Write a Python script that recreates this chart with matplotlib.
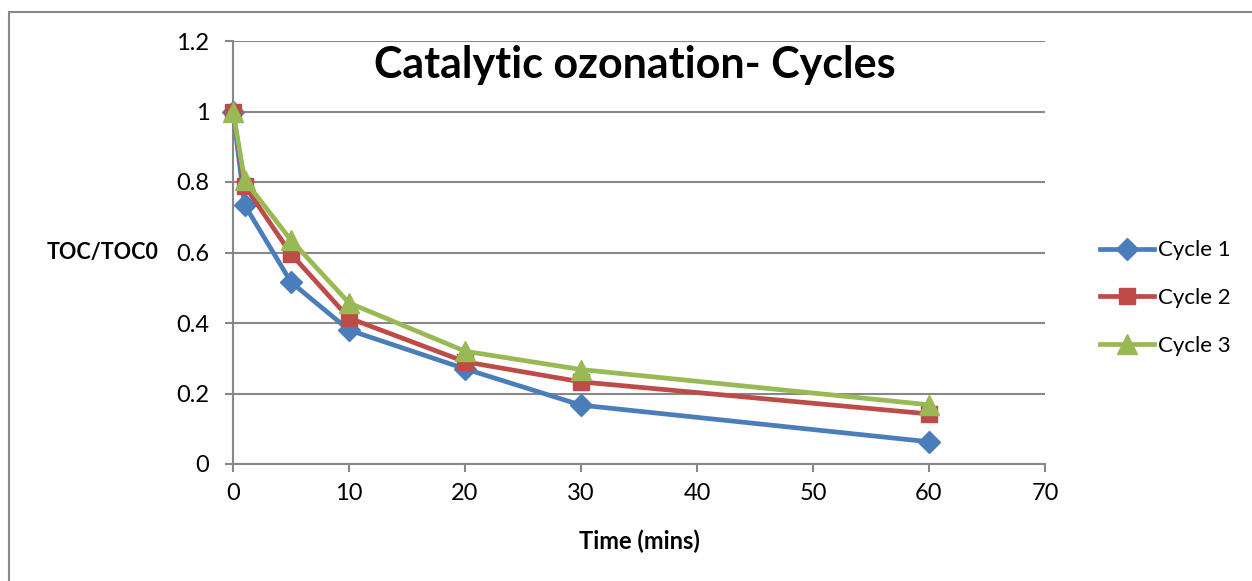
import matplotlib
matplotlib.use("Agg")
import matplotlib.pyplot as plt
from matplotlib.patches import Rectangle

time_min = [0, 1, 5, 10, 20, 30, 60]
cycle1 = [1.0, 0.735, 0.516, 0.38, 0.27, 0.167, 0.063]
cycle2 = [1.0, 0.79, 0.596, 0.414, 0.29, 0.233, 0.142]
cycle3 = [1.0, 0.805, 0.635, 0.457, 0.32, 0.268, 0.168]
series_names = ["Cycle 1", "Cycle 2", "Cycle 3"]
x_ticks = [0, 10, 20, 30, 40, 50, 60, 70]
y_ticks = [0, 0.2, 0.4, 0.6, 0.8, 1, 1.2]
y_tick_labels = ["0", "0.2", "0.4", "0.6", "0.8", "1", "1.2"]

plt.rcParams['font.family'] = ['Lato', 'DejaVu Sans']

W, H = 1252, 581
fig = plt.figure(figsize=(W / 100, H / 100), dpi=100)
fig.patch.set_facecolor('white')

# outer chart border
fig.patches.append(Rectangle((9 / W, -0.1), 1.2, 1 - 12 / H + 0.1, transform=fig.transFigure,
                             fill=False, edgecolor='#888888', linewidth=1.5))

ax = fig.add_axes([233 / W, 1 - 464 / H, (1045 - 233) / W, (464 - 41) / H])

colors = ['#4A7EBB', '#BE4B48', '#98B954']
markers = ['D', 's', '^']
msizes = [11, 12, 14]
for vals, name, c, m, ms in zip([cycle1, cycle2, cycle3], series_names, colors, markers, msizes):
    ax.plot(time_min, vals, color=c, linewidth=3.4, marker=m, markersize=ms,
            markeredgecolor=c, label=name, clip_on=False, zorder=3)

ax.set_xlim(0, 70)
ax.set_ylim(0, 1.2)
ax.set_xticks(x_ticks)
ax.set_yticks(y_ticks)
ax.set_yticklabels(y_tick_labels)
ax.grid(axis='y', color='#888888', linewidth=1.5)
ax.set_axisbelow(True)
for s in ['top', 'right']:
    ax.spines[s].set_visible(False)
for s in ['left', 'bottom']:
    ax.spines[s].set_color('#888888')
    ax.spines[s].set_linewidth(1.5)
ax.tick_params(axis='both', direction='out', length=6, width=1.5, color='#888888',
               labelsize=17, labelcolor='black')
ax.tick_params(axis='y', pad=11)
ax.tick_params(axis='x', pad=8)

ax.set_xlabel("Time (mins)", fontsize=17, fontweight='bold')
ax.xaxis.set_label_coords(0.5, -0.155)
ax.set_ylabel("TOC/TOC0", fontsize=15.5, fontweight='bold', rotation=0, ha='right', va='center')
ax.yaxis.set_label_coords(-0.092, 0.499)

ax.text(0.495, 0.943, "Catalytic ozonation- Cycles", transform=ax.transAxes,
        ha='center', va='center', fontsize=31, fontweight='bold')

leg = ax.legend(loc='center left', bbox_to_anchor=(1.043, 0.392), frameon=False,
                fontsize=16, handlelength=2.45, labelspacing=1.25, handletextpad=0.15)

fig.savefig("out.png", dpi=100)
